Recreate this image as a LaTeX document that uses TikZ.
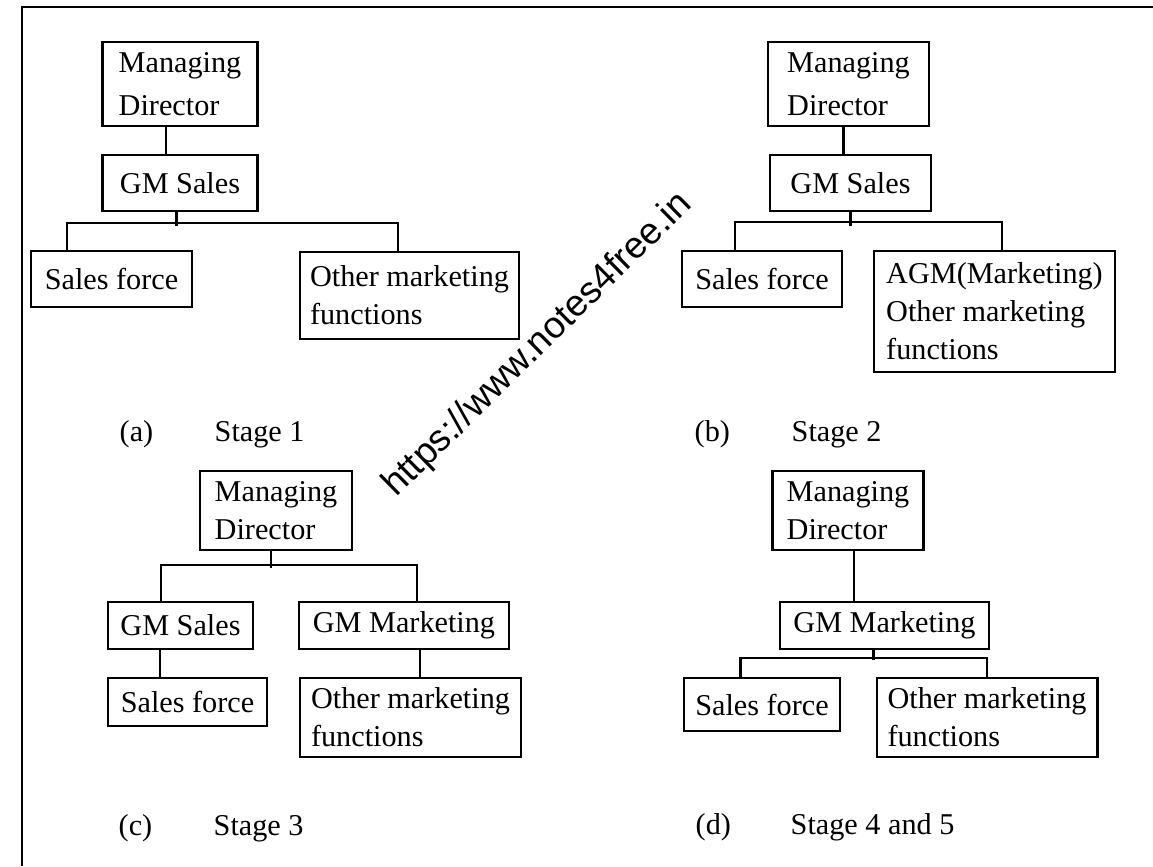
\documentclass[tikz,border=0pt]{standalone}
\usepackage{fontspec}
\setmainfont{Liberation Serif}
\newfontfamily\wmfont{Liberation Sans}

\begin{document}
\begin{tikzpicture}[
        orgbox/.style={draw, line width=0.7pt, align=left, inner sep=2pt, font=\fontsize{8.6}{10.8}\selectfont},
        link/.style={line width=0.7pt},
        caption/.style={anchor=base west, inner sep=0pt, font=\fontsize{8.6}{10.8}\selectfont}
    ]
        % Frame
        \useasboundingbox (0,0) rectangle (11.53,-8.66);
        \draw[link] (0.22,-8.66) -- (0.22,-0.07) -- (11.53,-0.07);

        % Stage 1
        \node[orgbox, minimum width=1.55cm, minimum height=0.84cm] (mdA) at (1.80,-0.84) {Managing\\[1.5pt]Director};
        \node[orgbox, minimum width=1.55cm, minimum height=0.56cm] (gmA) at (1.80,-1.83) {GM Sales};
        \node[orgbox, minimum width=1.61cm, minimum height=0.56cm] (sfA) at (1.115,-2.79) {Sales force};
        \node[orgbox, minimum width=2.19cm, minimum height=0.87cm] (omA) at (4.095,-2.955) {Other marketing\\functions};

        \draw[link] ([xshift=-0.14cm]mdA.south) -- ([xshift=-0.14cm]mdA.south |- gmA.north);
        \draw[link] ([xshift=-0.035cm]gmA.south) -- ++(0,-0.14);
        \draw[link] ([xshift=-0.445cm]sfA.north) |- ([xshift=-0.115cm,yshift=0.28cm]omA.north) -- ([xshift=-0.115cm]omA.north);

        % Stage 2
        \node[orgbox, minimum width=1.61cm, minimum height=0.84cm] (mdB) at (8.485,-0.84) {Managing\\[1.5pt]Director};
        \node[orgbox, minimum width=1.61cm, minimum height=0.56cm] (gmB) at (8.505,-1.83) {GM Sales};
        \node[orgbox, minimum width=1.60cm, minimum height=0.56cm] (sfB) at (7.62,-2.79) {Sales force};
        \node[orgbox, minimum width=2.41cm, minimum height=1.21cm] (agmB) at (9.945,-3.115) {AGM(Marketing)\\Other marketing\\functions};

        \draw[link] ([xshift=-0.05cm]mdB.south) -- ([xshift=-0.05cm]mdB.south |- gmB.north);
        \draw[link] (gmB.south) -- ++(0,-0.14);
        \draw[link] ([xshift=-0.27cm]sfB.north) |- ([xshift=0.075cm,yshift=0.28cm]agmB.north) -- ([xshift=0.075cm]agmB.north);

        % Stage 3
        \node[orgbox, minimum width=1.52cm, minimum height=0.79cm] (mdC) at (2.76,-5.105) {Managing\\Director};
        \node[orgbox, minimum width=1.45cm, minimum height=0.47cm] (gmsC) at (1.805,-6.255) {GM Sales};
        \node[orgbox, minimum width=2.10cm, minimum height=0.47cm] (gmmC) at (4.04,-6.255) {GM Marketing};
        \node[orgbox, minimum width=1.59cm, minimum height=0.48cm] (sfC) at (1.875,-7.02) {Sales force};
        \node[orgbox, minimum width=2.21cm, minimum height=0.79cm] (omC) at (4.105,-7.175) {Other marketing\\functions};

        \draw[link] ([xshift=-0.05cm]mdC.south) -- ++(0,-0.17);
        \draw[link] ([xshift=-0.195cm]gmsC.north) |- ([xshift=0.13cm,yshift=0.36cm]gmmC.north) -- ([xshift=0.13cm]gmmC.north);
        \draw[link] ([xshift=-0.205cm]gmsC.south) -- ([xshift=-0.205cm]gmsC.south |- sfC.north);
        \draw[link] ([xshift=0.16cm]gmmC.south) -- ([xshift=0.16cm]gmmC.south |- omC.north);

        % Stage 4 and 5
        \node[orgbox, minimum width=1.51cm, minimum height=0.79cm] (mdD) at (8.48,-5.105) {Managing\\Director};
        \node[orgbox, minimum width=2.09cm, minimum height=0.47cm] (gmmD) at (8.845,-6.255) {GM Marketing};
        \node[orgbox, minimum width=1.56cm, minimum height=0.53cm] (sfD) at (7.62,-7.045) {Sales force};
        \node[orgbox, minimum width=2.205cm, minimum height=0.79cm] (omD) at (9.87,-7.175) {Other marketing\\functions};

        \draw[link] ([xshift=0.06cm]mdD.south) -- ([xshift=0.06cm]mdD.south |- gmmD.north);
        \draw[link] ([xshift=-0.11cm]gmmD.south) -- ++(0,-0.10);
        \draw[link] ([xshift=-0.215cm]sfD.north) |- ([yshift=0.19cm]omD.north) -- (omD.north);

        % Captions
        \node[caption] (capA) at (1.19,-4.415) {(a)};
        \node[caption] (stgA) at (2.14,-4.415) {Stage 1};
        \node[caption] (capB) at (6.94,-4.415) {(b)};
        \node[caption] (stgB) at (7.91,-4.415) {Stage 2};
        \node[caption] (capC) at (1.18,-8.35) {(c)};
        \node[caption] (stgC) at (2.13,-8.35) {Stage 3};
        \node[caption] (capD) at (6.95,-8.34) {(d)};
        \node[caption] (stgD) at (7.90,-8.34) {Stage 4 and 5};

        % Watermark
        \node[rotate=44.5, anchor=base, inner sep=0pt, font=\wmfont\fontsize{10.6}{13}\selectfont] (wmark) at (5.45,-3.52) {https://www.notes4free.in};

    \end{tikzpicture}
\end{document}
